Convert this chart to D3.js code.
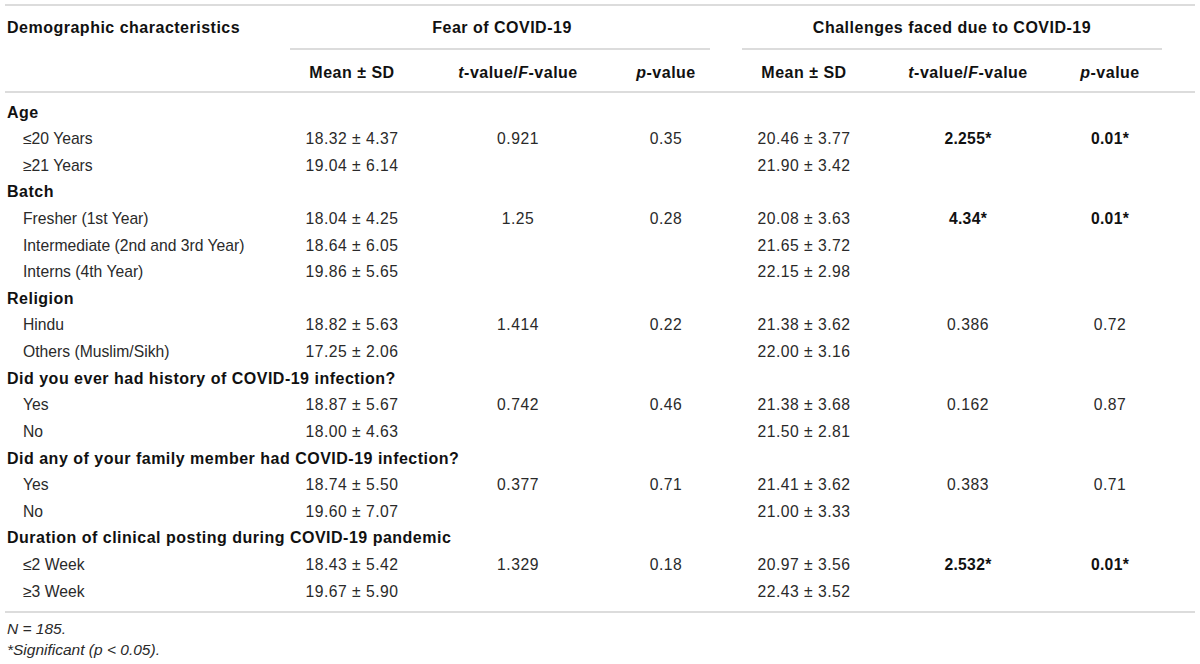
<!DOCTYPE html>
<html>
<head>
<meta charset="utf-8">
<script src="https://cdn.jsdelivr.net/npm/d3@7"></script>
<style>
	body { margin: 0; background: #fff; }
	svg { display: block; font-family: 'Liberation Sans', Arial, Helvetica, sans-serif; }
	.rule { stroke: #d0d0d0; stroke-width: 1.6; }
	.head { font-weight: bold; fill: #111; font-size: 16px; letter-spacing: 0.5px; }
	.cell { fill: #2a2a2a; font-size: 15.7px; }
	.val { letter-spacing: 0.5px; }
	.sig { font-weight: bold; fill: #111; letter-spacing: 0.3px; }
	.note { fill: #2a2a2a; font-size: 15.5px; font-style: italic; }
</style>
</head>
<body>
<svg id="table" width="1200" height="664"></svg>
<script>
const groups = [
	'Age',
	'Batch',
	'Religion',
	'Did you ever had history of COVID-19 infection?',
	'Did any of your family member had COVID-19 infection?',
	'Duration of clinical posting during COVID-19 pandemic',
];
const levels = [
	['≤20 Years', '≥21 Years'],
	['Fresher (1st Year)', 'Intermediate (2nd and 3rd Year)', 'Interns (4th Year)'],
	['Hindu', 'Others (Muslim/Sikh)'],
	['Yes', 'No'],
	['Yes', 'No'],
	['≤2 Week', '≥3 Week'],
];
// one value per level row
const fearMean = [18.32, 19.04, 18.04, 18.64, 19.86, 18.82, 17.25, 18.87, 18.0, 18.74, 19.6, 18.43, 19.67];
const fearSD = [4.37, 6.14, 4.25, 6.05, 5.65, 5.63, 2.06, 5.67, 4.63, 5.5, 7.07, 5.42, 5.9];
const chalMean = [20.46, 21.9, 20.08, 21.65, 22.15, 21.38, 22.0, 21.38, 21.5, 21.41, 21.0, 20.97, 22.43];
const chalSD = [3.77, 3.42, 3.63, 3.72, 2.98, 3.62, 3.16, 3.68, 2.81, 3.62, 3.33, 3.56, 3.52];
// one value per group
const fearStat = [0.921, 1.25, 1.414, 0.742, 0.377, 1.329];
const fearP = [0.35, 0.28, 0.22, 0.46, 0.71, 0.18];
const chalStat = [2.255, 4.34, 0.386, 0.162, 0.383, 2.532];
const chalP = [0.01, 0.01, 0.72, 0.87, 0.71, 0.01];
const chalSig = [true, true, false, false, false, true];

const columns = ['fearMean', 'fearStat', 'fearP', 'chalMean', 'chalStat', 'chalP'];
const notes = ['N = 185.', '*Significant (p < 0.05).'];

const svg = d3.select('svg[id=table]');
const f2 = d3.format('.2f');

// flatten groups into table rows
const rows = [];
let k = 0;
groups.forEach((g, gi) => {
	rows.push({ label: g, group: true });
	levels[gi].forEach((lv, li) => {
		const r = {
			label: lv,
			group: false,
			fearMean: f2(fearMean[k]) + ' ± ' + f2(fearSD[k]),
			chalMean: f2(chalMean[k]) + ' ± ' + f2(chalSD[k]),
		};
		if (li === 0) {
			r.fearStat = String(fearStat[gi]);
			r.fearP = String(fearP[gi]);
			r.chalStat = String(chalStat[gi]) + (chalSig[gi] ? '*' : '');
			r.chalP = String(chalP[gi]) + (chalSig[gi] ? '*' : '');
			r.sig = chalSig[gi];
		}
		rows.push(r);
		k++;
	});
});

const x = d3.scaleOrdinal().domain(columns).range([352, 518, 666, 804, 968, 1110]);
const y = d3.scaleLinear().domain([0, rows.length - 1]).range([112, 591]);

// rules
const rules = [
	[5, 1195, 5],
	[290, 710, 49],
	[742, 1162, 49],
	[5, 1195, 92],
	[5, 1195, 612],
];
svg.selectAll('.rule')
	.data(rules)
	.join('line')
	.attr('class', 'rule')
	.attr('x1', (d) => d[0])
	.attr('x2', (d) => d[1])
	.attr('y1', (d) => d[2])
	.attr('y2', (d) => d[2]);

// header
svg.append('text').attr('class', 'head').attr('x', 7).attr('y', 27).attr('dy', '0.35em').text('Demographic characteristics');
svg.append('text').attr('class', 'head').attr('x', 502).attr('y', 27).attr('dy', '0.35em').attr('text-anchor', 'middle').text('Fear of COVID-19');
svg.append('text').attr('class', 'head').attr('x', 952).attr('y', 27).attr('dy', '0.35em').attr('text-anchor', 'middle').text('Challenges faced due to COVID-19');

const subHeads = {
	fearMean: [['Mean ± SD', false]],
	fearStat: [['t', true], ['-value/', false], ['F', true], ['-value', false]],
	fearP: [['p', true], ['-value', false]],
	chalMean: [['Mean ± SD', false]],
	chalStat: [['t', true], ['-value/', false], ['F', true], ['-value', false]],
	chalP: [['p', true], ['-value', false]],
};
columns.forEach((c) => {
	const t = svg.append('text').attr('class', 'head').attr('x', x(c)).attr('y', 72).attr('dy', '0.35em').attr('text-anchor', 'middle');
	subHeads[c].forEach(([s, it]) => t.append('tspan').style('font-style', it ? 'italic' : null).text(s));
});

// body
const rowSel = svg.selectAll('.row')
	.data(rows)
	.join('g')
	.attr('class', 'row')
	.attr('transform', (d, i) => `translate(0,${y(i)})`);

rowSel.append('text')
	.attr('class', (d) => (d.group ? 'head' : 'cell'))
	.attr('x', (d) => (d.group ? 7 : 23))
	.attr('dy', '0.35em')
	.text((d) => d.label);

rowSel.filter((d) => !d.group)
	.selectAll('.val')
	.data((d) => columns.filter((c) => d[c] !== undefined).map((c) => ({ c, v: d[c], sig: d.sig && (c === 'chalStat' || c === 'chalP') })))
	.join('text')
	.attr('class', (d) => 'cell val' + (d.sig ? ' sig' : ''))
	.attr('x', (d) => x(d.c))
	.attr('dy', '0.35em')
	.attr('text-anchor', 'middle')
	.text((d) => d.v);

// footnotes
svg.append('text').attr('class', 'note').attr('x', 7).attr('y', 629).attr('dy', '0.35em').text(notes[0]);
svg.append('text').attr('class', 'note').attr('x', 7).attr('y', 650).attr('dy', '0.35em').text(notes[1]);
</script>
</body>
</html>
